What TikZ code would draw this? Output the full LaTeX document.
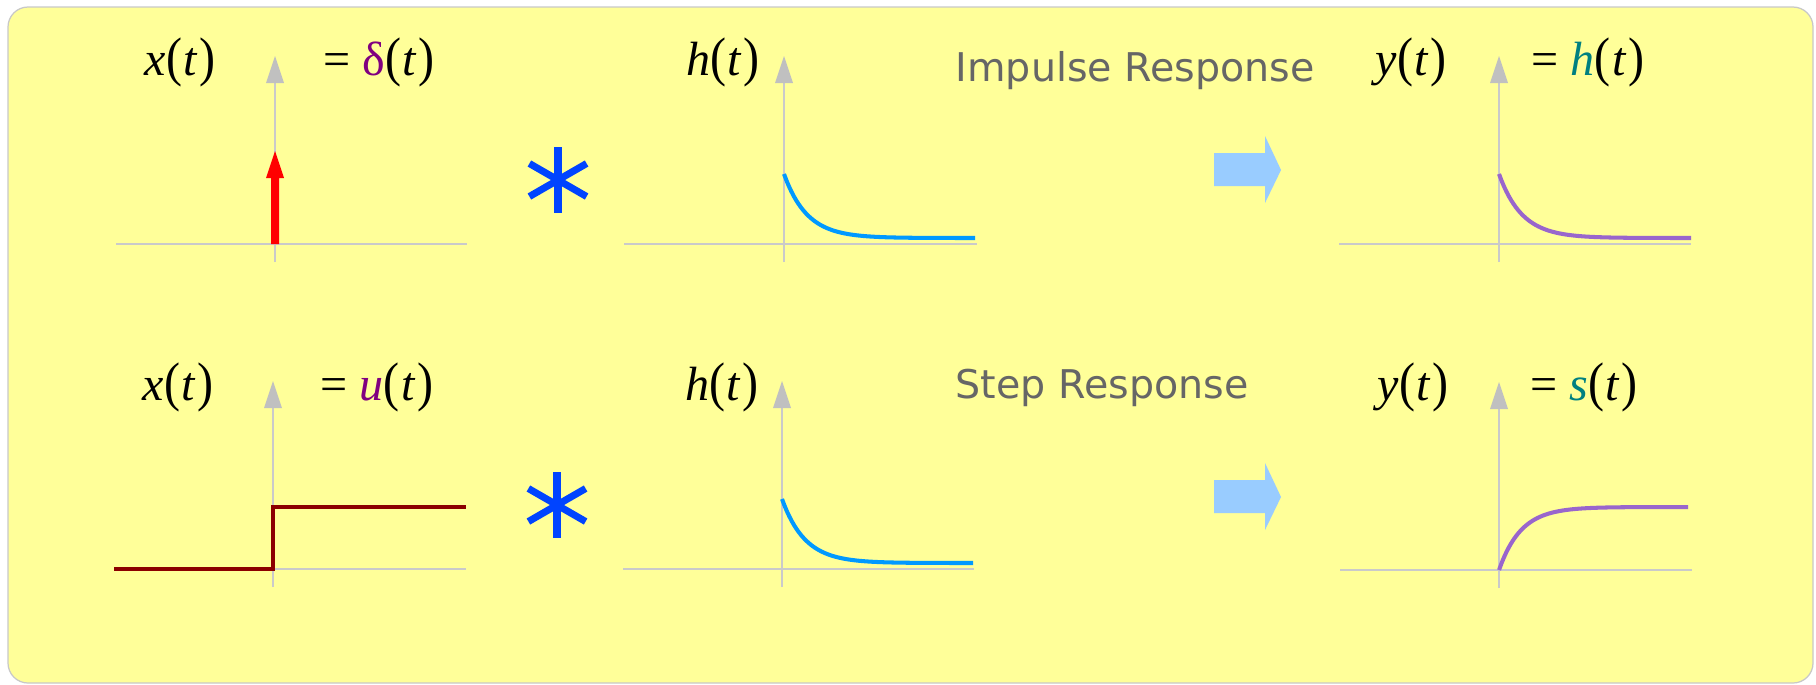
\documentclass[tikz,border=0pt]{standalone}
\usepackage{graphicx}
\usepackage{fontspec}
\setmainfont{Liberation Serif}
\newfontfamily\captionsans{DejaVu Sans}
\definecolor{panelfill}{HTML}{FFFF99}
\definecolor{panelframe}{HTML}{C8C8C8}
\definecolor{axisgray}{HTML}{CACACA}
\definecolor{tipgray}{HTML}{C0C0C0}
\definecolor{impulsered}{HTML}{FF0000}
\definecolor{stepred}{HTML}{8B0000}
\definecolor{hblue}{HTML}{0099FF}
\definecolor{ypurple}{HTML}{9966CC}
\definecolor{convblue}{HTML}{0044FF}
\definecolor{flowblue}{HTML}{99CCFF}
\definecolor{inpurple}{HTML}{800080}
\definecolor{outteal}{HTML}{008080}
\definecolor{captiongray}{HTML}{666666}

% tall argument brackets around an italic t
\newcommand\argt{\scalebox{1}[1.13]{(}\kern0.03em\textit{t}\kern0.03em\scalebox{1}[1.13]{)}}

\tikzset{
  fnlabel/.style={anchor=base, inner sep=0pt, font=\fontsize{13.66pt}{16pt}\selectfont},
  caption/.style={anchor=base west, inner sep=0pt, text=captiongray,
    font=\captionsans\fontsize{11.25pt}{13pt}\selectfont},
  axisline/.style={draw=axisgray, line width=0.45pt},
  hcurve/.style={draw=hblue, line width=1.15pt},
  ycurve/.style={draw=ypurple, line width=1.15pt},
  stepline/.style={draw=stepred, line width=1.15pt, line join=miter},
  convstar/.style={draw=convblue, line width=2pt},
  flowarrow/.style={fill=flowblue},
  pics/plotaxes/.style n args={2}{code={
    \draw[axisline] (-#1,0) -- (#2,0);
    \draw[axisline] (0,18) -- (0,-162);
    \fill[tipgray] (-9,-161) -- (9,-161) -- (0,-188) -- cycle;
  }},
  pics/convsign/.style={code={
    \draw[convstar] (0,-33) -- (0,33);
    \draw[convstar] (-28.6,-16.5) -- (28.6,16.5);
    \draw[convstar] (-28.6,16.5) -- (28.6,-16.5);
  }},
  pics/blockarrow/.style={code={
    \fill[flowarrow] (0,-17) -- (51,-17) -- (51,-34) -- (67,0) -- (51,33)
      -- (51,16) -- (0,16) -- cycle;
  }},
}

\begin{document}
\begin{tikzpicture}[x=0.01cm, y=-0.01cm]
  \useasboundingbox (0,0) rectangle (1816,684);
  \fill[white] (0,0) rectangle (1816,684);
  \draw[panelframe, fill=panelfill, line width=0.35pt, rounded corners=0.2cm]
    (8,7) rectangle (1813,683);

  % ---------- impulse row ----------
  \pic at (275,244) {plotaxes={159}{192}};
  \fill[impulsered] (271,244) -- (271,178) -- (266,178) -- (275,151)
    -- (284,178) -- (279,178) -- (279,244) -- cycle;
  \node[fnlabel] (xa) at (180,75) {\textit{x}\argt};
  \node[fnlabel] (da) at (379,75) {=\hspace{0.25em}{\color{inpurple}δ}\argt};

  \pic at (558,180) {convsign};

  \pic at (784,244) {plotaxes={160}{193}};
  \draw[hcurve, shift={(784,244)}] plot[domain=0:191, samples=80]
    (\x, {-6-64*exp(-\x/23)});
  \node[fnlabel] (ha) at (723,75) {\textit{h}\argt};

  \node[caption] (impulse) at (955,81) {Impulse Response};
  \pic at (1214,170) {blockarrow};

  \pic at (1499,244) {plotaxes={160}{192}};
  \draw[ycurve, shift={(1499,244)}] plot[domain=0:192, samples=80]
    (\x, {-6-64*exp(-\x/23)});
  \node[fnlabel] (ya) at (1411,75) {\textit{y}\argt};
  \node[fnlabel] (ra) at (1588,75) {=\hspace{0.25em}{\color{outteal}\textit{h}}\argt};

  % ---------- step row ----------
  \pic at (273,569) {plotaxes={159}{193}};
  \draw[stepline] (114,569) -- (273,569) -- (273,507) -- (466,507);
  \node[fnlabel] (xb) at (178,400) {\textit{x}\argt};
  \node[fnlabel] (ub) at (377,400) {=\hspace{0.25em}{\color{inpurple}\textit{u}}\argt};

  \pic at (557,505) {convsign};

  \pic at (782,569) {plotaxes={159}{192}};
  \draw[hcurve, shift={(782,569)}] plot[domain=0:191, samples=80]
    (\x, {-6-64*exp(-\x/23)});
  \node[fnlabel] (hb) at (722,400) {\textit{h}\argt};

  \node[caption] (step) at (955,398) {Step Response};
  \pic at (1214,497) {blockarrow};

  \pic at (1499,570) {plotaxes={159}{193}};
  \draw[ycurve, shift={(1499,570)}] plot[domain=0:189, samples=80]
    (\x, {-63*(1-exp(-\x/22))});
  \node[fnlabel] (yb) at (1413,400) {\textit{y}\argt};
  \node[fnlabel] (sb) at (1584,400) {=\hspace{0.25em}{\color{outteal}\textit{s}}\argt};
\end{tikzpicture}
\end{document}
